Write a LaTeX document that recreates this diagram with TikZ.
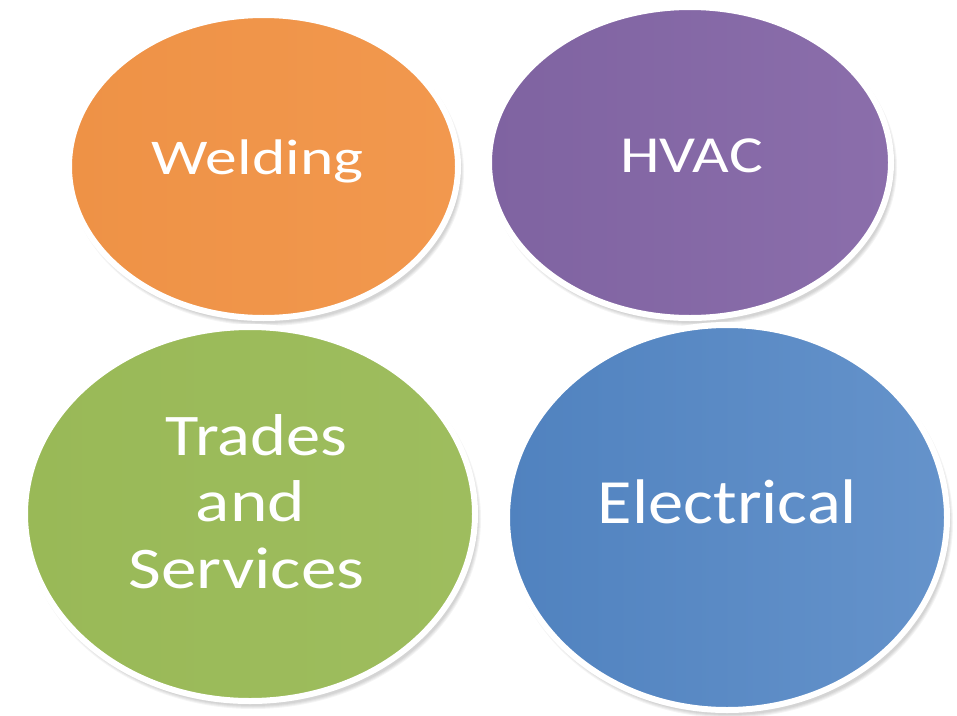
\documentclass[tikz,border=0pt]{standalone}
\usepackage{fontspec}
\setmainfont{Carlito}
\usetikzlibrary{shapes.geometric}
\definecolor{cOrangeL}{HTML}{EE9246}
\definecolor{cOrangeR}{HTML}{F2984E}
\definecolor{cPurpleL}{HTML}{7F63A1}
\definecolor{cPurpleR}{HTML}{8B6EAB}
\definecolor{cGreenL}{HTML}{99B957}
\definecolor{cGreenR}{HTML}{9EBD5E}
\definecolor{cBlueL}{HTML}{5082BF}
\definecolor{cBlueR}{HTML}{6593CB}
\tikzset{
  blob/.style={ellipse, inner sep=0pt, draw=white, line width=6pt},
  shadowblob/.style={ellipse, inner sep=0pt, fill=black, fill opacity=0.045, draw=none},
  lbl/.style={text=white, inner sep=0pt, anchor=base}
}
\newcommand{\blobat}[6]{%
  % #1 name, #2 x, #3 y, #4 rx, #5 ry, #6 colors
  \foreach \k in {0,2,4,6}{
    \node[shadowblob, minimum width={2*(#4+3)+\k pt}, minimum height={2*(#5+3)+\k pt}] at (#2+3,#3+5) {};
  }
  \node[blob, #6, minimum width={2*(#4+3)}, minimum height={2*(#5+3)}] (#1) at (#2,#3) {};
}
\begin{document}
\begin{tikzpicture}[x=1pt,y=-1pt]
\useasboundingbox[fill=white] (0,0) rectangle (957,715);
\blobat{weld}{263.5}{166.5}{191.5}{148.5}{left color=cOrangeL, right color=cOrangeR}
\blobat{hvac}{690}{162.5}{198}{152.5}{left color=cPurpleL, right color=cPurpleR}
\blobat{trades}{250}{514}{222}{184}{left color=cGreenL, right color=cGreenR}
\blobat{elec}{727}{517.5}{217}{189.5}{left color=cBlueL, right color=cBlueR}
\node[lbl] (tweld) at (257.5,174) {\scalebox{1.27}[1]{\fontsize{50}{60}\selectfont Welding}};
\node[lbl] (thvac) at (691.5,172) {\scalebox{1.22}[1]{\fontsize{52}{60}\selectfont HVAC}};
\node[lbl] (telec) at (727.5,523) {\scalebox{1.12}[1]{\fontsize{63}{70}\selectfont Electrical}};
\node[lbl] (ttr1) at (256.5,455) {\scalebox{1.16}[1]{\fontsize{59}{66}\selectfont Trades}};
\node[lbl] (ttr2) at (250.5,521) {\scalebox{1.21}[1]{\fontsize{59}{66}\selectfont and}};
\node[lbl] (ttr3) at (246.5,588) {\scalebox{1.21}[1]{\fontsize{59}{66}\selectfont Services}};
\end{tikzpicture}
\end{document}
